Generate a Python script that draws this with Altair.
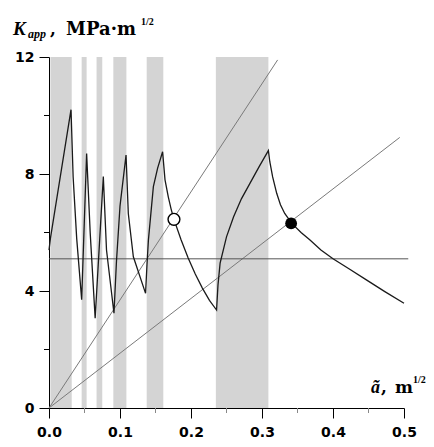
import altair as alt
import pandas as pd

# ---- data ----
curve_x = [0.0, 0.002, 0.031, 0.034, 0.039, 0.046, 0.053, 0.058, 0.065, 0.0765, 0.081,
           0.0915, 0.095, 0.100, 0.1085, 0.1117, 0.1188, 0.136, 0.138, 0.140, 0.147,
           0.153, 0.160, 0.1634, 0.168, 0.172, 0.176, 0.186, 0.196, 0.206, 0.216, 0.226,
           0.236, 0.238, 0.241, 0.25, 0.26, 0.271, 0.283, 0.296, 0.309, 0.311,
           0.315, 0.3207, 0.326, 0.332, 0.342, 0.355, 0.3676, 0.383, 0.40, 0.423,
           0.447, 0.473, 0.5]
curve_y = [5.4, 5.8, 10.2, 7.9, 5.8, 3.7, 8.7, 6.0, 3.07, 7.91, 5.4,
           3.24, 5.0, 6.9, 8.65, 6.65, 5.17, 3.92, 4.9, 5.74, 7.57,
           8.2, 8.76, 7.8, 7.22, 6.8, 6.45, 5.75, 5.13, 4.58, 4.10, 3.68,
           3.35, 4.2, 4.95, 5.85, 6.54, 7.15, 7.68, 8.25, 8.8, 8.42,
           7.9, 7.34, 6.95, 6.65, 6.31, 6.0, 5.74, 5.4, 5.1, 4.75,
           4.38, 3.98, 3.58]

band_start = [0.002, 0.046, 0.067, 0.0906, 0.1376, 0.235]
band_end = [0.032, 0.053, 0.075, 0.109, 0.161, 0.309]

line1_x = [0.0, 0.322]
line1_y = [0.0, 11.9]
line2_x = [0.0, 0.494]
line2_y = [0.0, 9.25]
hline_x = [0.0, 0.506]
hline_y = [5.1, 5.1]

open_pt = [0.176, 6.45]
filled_pt = [0.341, 6.31]

x_ticks = [0.0, 0.1, 0.2, 0.3, 0.4, 0.5]
x_minor = [0.05, 0.15, 0.25, 0.35, 0.45]
y_ticks = [0, 4, 8, 12]
y_minor = [2, 6, 10]

W, H = 355, 351
xs = alt.Scale(domain=[0, 0.5], nice=False, zero=False)
ys = alt.Scale(domain=[0, 12], nice=False, zero=False)

bands = pd.DataFrame({"x": band_start, "x2": band_end, "y": [0] * 6, "y2": [12] * 6})
band_layer = alt.Chart(bands).mark_rect(color="#d4d4d4").encode(
    x=alt.X("x:Q", scale=xs, axis=alt.Axis(values=x_ticks, format=".1f", title=None, grid=False,
                                         labelFont="DejaVu Sans", labelFontWeight="bold",
                                         labelFontSize=14, labelColor="black",
                                         labelBaseline="alphabetic",
                                         tickSize=10, tickColor="black", domainColor="black",
                                         labelPadding=18, labelFlush=False)),
    x2="x2:Q",
    y=alt.Y("y:Q", scale=ys, axis=alt.Axis(values=y_ticks, title=None, grid=False,
                                         labelFont="DejaVu Sans", labelFontWeight="bold",
                                         labelFontSize=14, labelColor="black",
                                         tickSize=10, tickColor="black", domainColor="black",
                                         labelPadding=5, labelFlush=False)),
    y2="y2:Q",
)

def seg(xv, yv, color, width):
    df = pd.DataFrame({"x": xv, "y": yv, "o": list(range(len(xv)))})
    return alt.Chart(df).mark_line(color=color, strokeWidth=width).encode(
        x=alt.X("x:Q", scale=xs), y=alt.Y("y:Q", scale=ys), order="o:Q")

l1 = seg(line1_x, line1_y, "#7a7a7a", 1)
l2 = seg(line2_x, line2_y, "#7a7a7a", 1)
hl = seg(hline_x, hline_y, "#555555", 1)
curve = seg(curve_x, curve_y, "#1a1a1a", 1.3)

op = alt.Chart(pd.DataFrame({"x": [open_pt[0]], "y": [open_pt[1]]})).mark_point(
    shape="circle", size=140, filled=True, fill="white", stroke="black", strokeWidth=1.4, opacity=1
).encode(x=alt.X("x:Q", scale=xs), y=alt.Y("y:Q", scale=ys))
fp = alt.Chart(pd.DataFrame({"x": [filled_pt[0]], "y": [filled_pt[1]]})).mark_point(
    shape="circle", size=140, filled=True, color="black", opacity=1
).encode(x=alt.X("x:Q", scale=xs), y=alt.Y("y:Q", scale=ys))

xm = alt.Chart(pd.DataFrame({"x": x_minor})).mark_rule(color="#888888").encode(
    x=alt.X("x:Q", scale=xs), y=alt.value(H), y2=alt.value(H + 5))
ym = alt.Chart(pd.DataFrame({"y": y_minor})).mark_rule(color="black").encode(
    y=alt.Y("y:Q", scale=ys), x=alt.value(-5), x2=alt.value(0))

def txt(s, x, y, size, italic=False, font="DejaVu Serif"):
    return alt.Chart(pd.DataFrame({"t": [s]})).mark_text(
        align="left", baseline="alphabetic", font=font, fontSize=size,
        fontWeight="bold", fontStyle="italic" if italic else "normal", color="black"
    ).encode(text="t:N", x=alt.value(x), y=alt.value(y))

texts = [
    txt("K", -36, -22, 19, italic=True, font="Liberation Serif"),
    txt("app", -21, -19, 12, italic=True, font="Liberation Serif"),
    txt(",", 1, -22, 17),
    txt("MPa·m", 17, -22, 18),
    txt("1/2", 92, -32, 10, font="Liberation Serif"),
    txt("ã", 322, 336, 18, italic=True, font="Liberation Serif"),
    txt(",", 332, 336, 17),
    txt("m", 346, 336, 17),
    txt("1/2", 364, 326, 10, font="Liberation Serif"),
]

chart = alt.layer(band_layer, l1, l2, hl, curve, op, fp, xm, ym, *texts).properties(
    width=W, height=H,
    autosize=alt.AutoSizeParams(type="none"),
    padding={"left": 41, "top": 49, "right": 22, "bottom": 31},
).configure_view(stroke=None).configure_axis(grid=False)

chart.save("out.html", embed_options={"renderer": "svg", "actions": False})
